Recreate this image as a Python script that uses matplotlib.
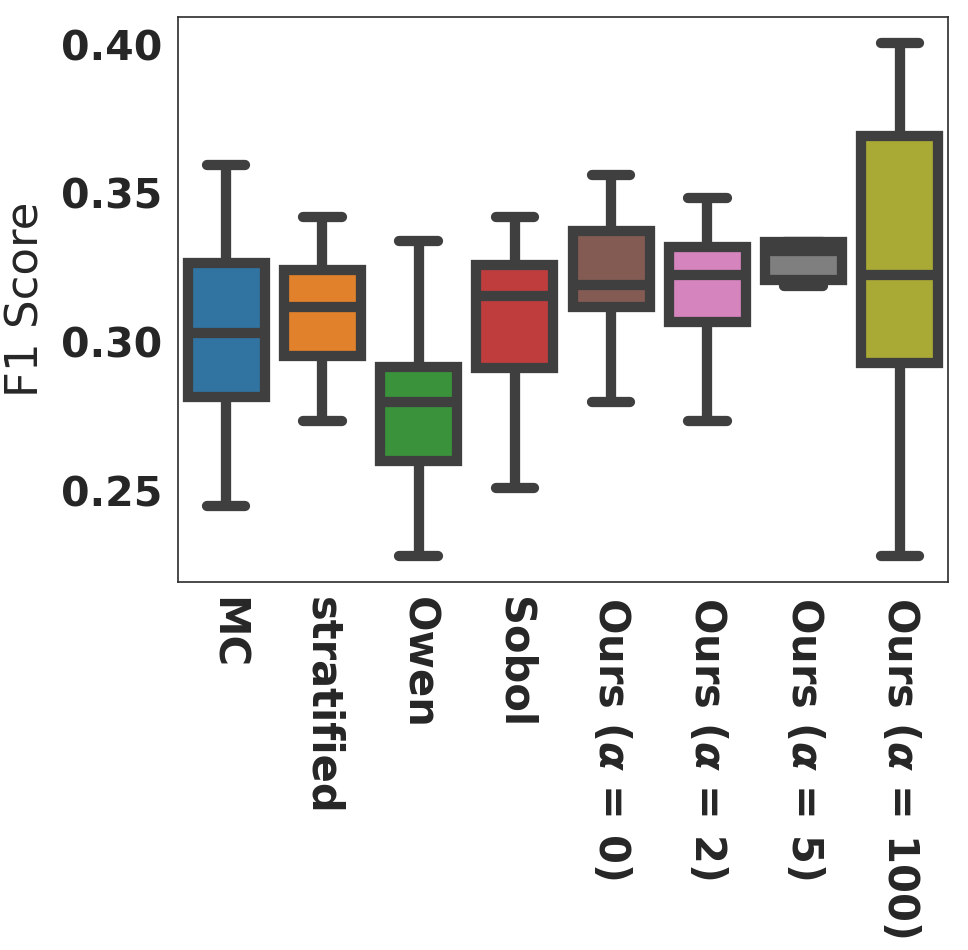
import matplotlib
matplotlib.use("Agg")
import matplotlib.pyplot as plt

categories = ["MC", "stratified", "Owen", "Sobol",
              r"Ours ($\boldsymbol{\alpha}$ = 0)", r"Ours ($\boldsymbol{\alpha}$ = 2)",
              r"Ours ($\boldsymbol{\alpha}$ = 5)", r"Ours ($\boldsymbol{\alpha}$ = 100)"]
whisker_low = [0.2448, 0.2736, 0.2282, 0.2508, 0.2799, 0.2736, 0.3187, 0.2282]
q1 =          [0.2816, 0.2953, 0.2600, 0.2913, 0.3119, 0.3067, 0.3208, 0.2930]
median =      [0.3029, 0.3119, 0.2799, 0.3155, 0.3191, 0.3225, 0.3306, 0.3225]
q3 =          [0.3266, 0.3243, 0.2916, 0.3260, 0.3373, 0.3320, 0.3337, 0.3694]
whisker_high = [0.3595, 0.3420, 0.3340, 0.3420, 0.3560, 0.3483, 0.3337, 0.4005]
colors = ["#3274A1", "#E1812C", "#3A923A", "#C03D3E",
          "#845B53", "#D684BD", "#7F7F7F", "#A9AA35"]
yticks = [0.25, 0.30, 0.35, 0.40]

LC = "#3f3f3f"
LW = 7.4
TXT = "#262626"

fig = plt.figure(figsize=(9.68, 9.5), dpi=100)
ax = fig.add_axes([178/968, 1-582/950, (948-178)/968, (582-17)/950])

stats = []
for i in range(len(categories)):
    stats.append(dict(whislo=whisker_low[i], q1=q1[i], med=median[i],
                      q3=q3[i], whishi=whisker_high[i], fliers=[]))

bp = ax.bxp(stats, positions=range(len(categories)), widths=0.8,
            patch_artist=True, showfliers=False, capwidths=0.4,
            boxprops=dict(edgecolor=LC, linewidth=LW, joinstyle="miter"),
            medianprops=dict(color=LC, linewidth=LW, solid_capstyle="butt"),
            whiskerprops=dict(color=LC, linewidth=LW, solid_capstyle="butt"),
            capprops=dict(color=LC, linewidth=LW, solid_capstyle="round"))
for patch, c in zip(bp["boxes"], colors):
    patch.set_facecolor(c)

ax.set_xlim(-0.5, len(categories) - 0.5)
ax.set_ylim(0.2193, 0.4093)
ax.set_yticks(yticks)
ax.set_yticklabels([f"{v:.2f}" for v in yticks])
ax.set_xticks(range(len(categories)))
ax.set_xticklabels(categories, rotation=270, ha="center", va="top")

for lab in ax.get_yticklabels():
    lab.set_fontweight("bold")
    lab.set_fontsize(29.5)
    lab.set_color(TXT)
for lab in ax.get_xticklabels():
    lab.set_fontweight("bold")
    lab.set_fontsize(30)
    lab.set_color(TXT)
ax.tick_params(axis="both", length=0, pad=11)
ax.set_ylabel("F1 Score", fontsize=32.5, color=TXT, labelpad=10)

for s in ax.spines.values():
    s.set_color("#333333")
    s.set_linewidth(1.25)

fig.savefig("out.png", dpi=100, facecolor="white")
